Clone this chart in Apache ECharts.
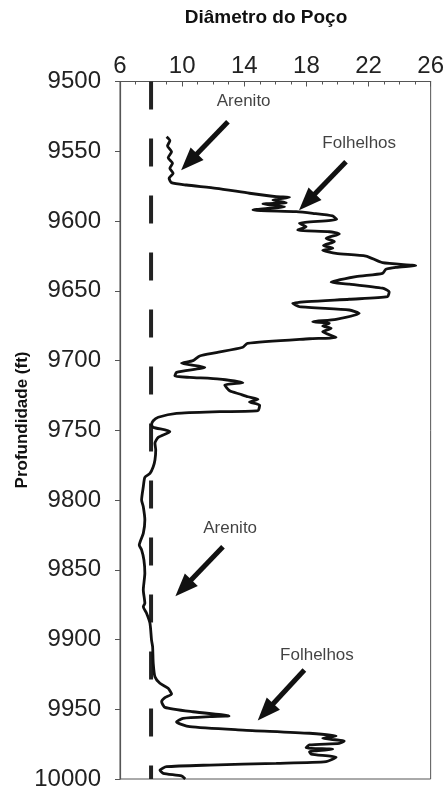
<!DOCTYPE html>
<html><head><meta charset="utf-8">
<script src="https://cdn.jsdelivr.net/npm/echarts@6/dist/echarts.min.js"></script>
<style>html,body{margin:0;padding:0;background:#fff}#c{width:447px;height:791px}</style>
</head><body><div id="c"></div>
<script>
// Caliper log (depth in ft, hole diameter in inches)
const depth = [9539.6,9542.4,9546.2,9550.3,9554.6,9558.6,9562.2,9565.8,9569.4,9572.5,
  9574.2,9576.6,9580.1,9582.6,9583.0,9584.9,9586.9,9587.8,9589.7,9592.1,
  9593.3,9594.5,9596.4,9598.8,9601.7,9604.1,9606.5,9607.7,9609.3,9612.4,
  9614.8,9617.5,9619.5,9621.0,9623.2,9625.1,9629.9,9632.0,9633.2,9634.6,
  9637.5,9639.9,9643.9,9645.2,9648.2,9650.7,9654.3,9656.1,9659.0,9661.4,
  9663.8,9666.2,9670.5,9672.2,9673.3,9675.3,9676.9,9679.4,9683.4,9684.4,
  9687.7,9690.5,9694.4,9696.8,9700.1,9702.0,9704.9,9708.5,9711.1,9712.1,
  9713.3,9715.9,9717.6,9721.7,9724.0,9726.0,9727.8,9729.7,9732.1,9736.0,
  9736.7,9737.9,9740.7,9743.2,9746.2,9747.9,9751.0,9755.1,9759.4,9764.2,
  9771.3,9776.1,9780.9,9783.7,9790.5,9800.0,9804.8,9814.3,9823.9,9832.3,
  9835.8,9843.0,9852.5,9864.5,9874.0,9876.5,9881.2,9888.4,9900.4,9905.2,
  9917.1,9926.7,9931.4,9935.0,9939.1,9941.7,9944.6,9948.6,9951.8,9954.1,
  9954.8,9955.3,9956.5,9959.1,9962.5,9964.9,9967.2,9969.2,9970.8,9972.8,
  9974.4,9975.6,9977.6,9978.7,9980.4,9982.1,9984.4,9987.6,9988.8,9990.0,
  9991.2,9993.6,9995.9,9997.8,10000.0];
const diameter = [9.0,9.21,9.06,9.32,9.10,9.38,9.21,9.42,9.16,9.31,
  10.28,12.2,14.34,16.06,16.91,15.84,16.7,15.2,16.59,14.56,
  17.34,18.41,19.69,19.95,17.55,17.98,17.44,19.48,20.12,19.27,
  19.8,19.1,19.7,19.05,19.91,21.83,22.9,25.04,23.76,23.12,
  22.9,21.19,19.59,20.76,22.9,23.33,23.22,20.76,17.12,17.55,
  20.76,21.4,19.91,18.41,19.48,19.05,19.59,19.05,19.91,18.2,
  14.2,13.91,12.2,11.13,10.7,9.96,11.46,9.64,9.53,10.49,
  12.42,13.91,12.74,13.06,13.7,14.24,14.88,14.34,14.99,14.88,
  12.42,9.64,8.46,8.14,8.03,8.14,9.21,8.46,8.25,8.3,
  8.25,8.14,7.93,7.6,7.5,7.39,7.5,7.6,7.5,7.24,
  7.39,7.54,7.6,7.5,7.6,7.5,7.71,7.93,8.03,8.1,
  8.14,8.25,8.57,9.1,9.32,8.89,8.68,8.89,10.7,12.63,
  13.02,11.78,10.06,9.64,10.49,13.91,18.2,19.91,19.05,20.44,
  20.12,18.2,17.98,19.69,18.2,18.3,19.91,19.27,16.06,11.78,
  9.0,8.57,8.78,9.96,10.2];
const bitSize = 8;               // dashed reference line (bit size)
const xTickLabels = [6,10,14,18,22,26];
const yTickLabels = [9500,9550,9600,9650,9700,9750,9800,9850,9900,9950,10000];
const noteText  = ['Arenito','Folhelhos','Arenito','Folhelhos'];
const noteX     = [13.96, 21.4, 13.09, 18.68];
const noteY     = [9514, 9544, 9820, 9911];
const arrowFromX = [12.95, 20.55, 12.63, 17.87];
const arrowFromY = [9528.8, 9557.5, 9833.5, 9921.9];
const arrowToX   = [10.45, 18.04, 10.08, 15.37];
const arrowToY   = [9557.7, 9586.4, 9863.1, 9952.0];

const FONT = '"Liberation Sans", Arial, sans-serif';
const chart = echarts.init(document.getElementById('c'), null, {renderer:'canvas'});
const curve = depth.map((d,i)=>[diameter[i], d]);
chart.setOption({
  animation:false,
  backgroundColor:'#fff',
  graphic:[
    {type:'text', x:266, y:18, style:{text:'Diâmetro do Poço', font:'bold 19px '+FONT, fill:'#111', align:'center', verticalAlign:'middle'}},
    {type:'text', x:22, y:420, rotation:Math.PI/2, style:{text:'Profundidade (ft)', font:'bold 17px '+FONT, fill:'#111', align:'center', verticalAlign:'middle'}}
  ],
  grid:{left:120, top:81.5, right:15.3, bottom:12, show:true, borderColor:'#555', borderWidth:1},
  xAxis:{type:'value', position:'top', min:xTickLabels[0], max:xTickLabels[xTickLabels.length-1], interval:4,
    axisLine:{show:true, lineStyle:{color:'#555', width:1.2}},
    axisTick:{show:true, inside:true, length:5, lineStyle:{color:'#555'}},
    minorTick:{show:true, splitNumber:4, length:3, lineStyle:{color:'#555'}},
    splitLine:{show:false},
    axisLabel:{fontFamily:FONT, fontSize:24, color:'#222', margin:3, formatter:v=>String(v)}},
  yAxis:{type:'value', inverse:true, min:yTickLabels[0], max:yTickLabels[yTickLabels.length-1], interval:50,
    axisLine:{show:true, lineStyle:{color:'#555', width:1.2}},
    axisTick:{show:true, length:5, lineStyle:{color:'#555'}},
    splitLine:{show:false},
    axisLabel:{fontFamily:FONT, fontSize:24, color:'#222', margin:19, formatter:v=>String(v)}},
  series:[
    {type:'line', data:curve, showSymbol:false, smooth:0.2, lineStyle:{color:'#111', width:2.8}, z:3},
    {type:'line', data:[[bitSize, yTickLabels[0]],[bitSize, yTickLabels[yTickLabels.length-1]]], showSymbol:false,
      lineStyle:{color:'#222', width:4, type:[28,29]}, z:2},
    {type:'scatter', data:noteText.map((t,i)=>({value:[noteX[i], noteY[i]], label:{formatter:t}})), symbolSize:0,
      label:{show:true, position:'inside', fontFamily:FONT, fontSize:17, color:'#111'}, z:4,
      markLine:{silent:true, symbol:['none','triangle'], symbolSize:[18,23], animation:false,
        lineStyle:{color:'#111', width:5, type:'solid'}, label:{show:false},
        data:arrowFromX.map((x,i)=>[{coord:[x, arrowFromY[i]]},{coord:[arrowToX[i], arrowToY[i]]}])}}
  ]
});
</script></body></html>
